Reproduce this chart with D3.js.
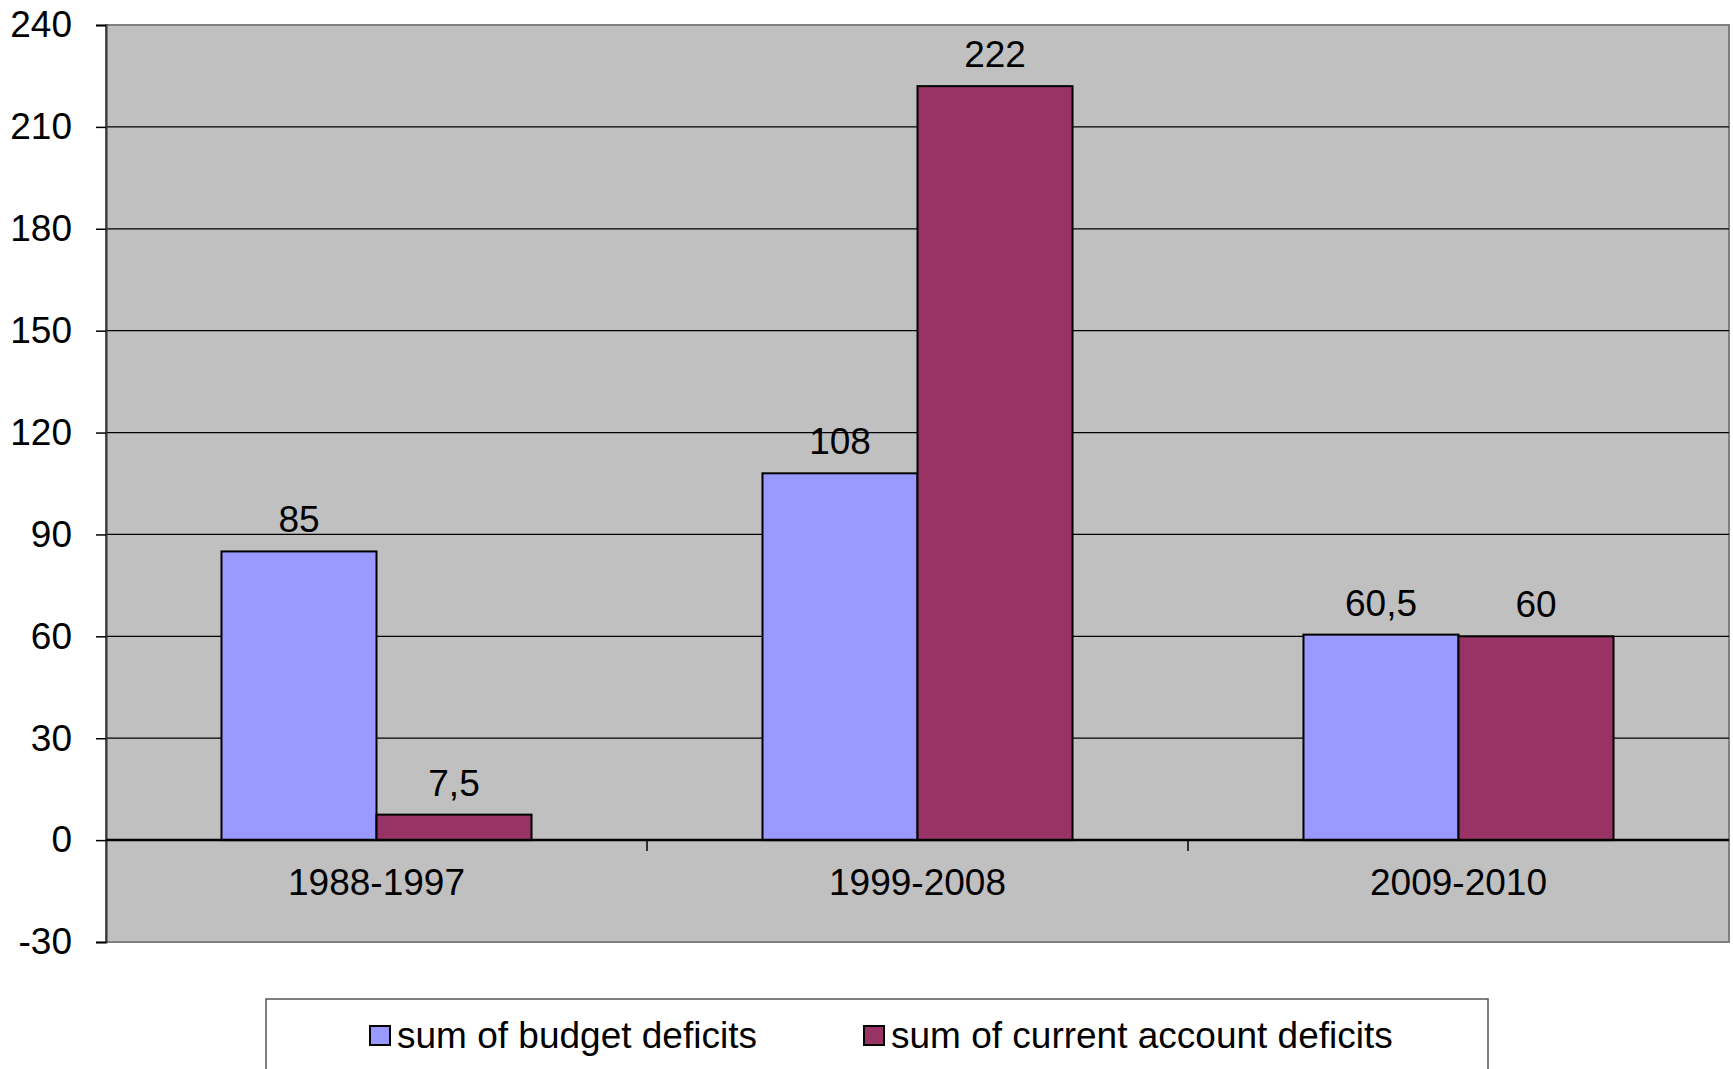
<!DOCTYPE html>
<html>
<head>
<meta charset="utf-8">
<script src="https://cdn.jsdelivr.net/npm/d3@7"></script>
<style>
  body { margin: 0; background: #fff; }
  text { font-family: "Liberation Sans", Arial, sans-serif; fill: #000; }
</style>
</head>
<body>
<div id="chart"></div>
<script>
const categories = ["1988-1997", "1999-2008", "2009-2010"];
const seriesNames = ["sum of budget deficits", "sum of current account deficits"];
const budget = [85, 108, 60.5];
const currentAccount = [7.5, 222, 60];
const yTicks = [-30, 0, 30, 60, 90, 120, 150, 180, 210, 240];

const colors = ["#9999ff", "#993366"];
const WIDTH = 1733, HEIGHT = 1069;
const M = { TOP: 25, LEFT: 106, RIGHT: 4, BOTTOM: 127 };
const FS = "37px";

const svg = d3.select("#chart").append("svg")
  .attr("width", WIDTH).attr("height", HEIGHT);

const innerW = WIDTH - M.LEFT - M.RIGHT;
const innerH = HEIGHT - M.TOP - M.BOTTOM;

const y = d3.scaleLinear().domain([-30, 240]).range([M.TOP + innerH, M.TOP]);
const x0 = d3.scaleBand().domain(categories).range([M.LEFT, M.LEFT + innerW]).padding(0);
const x1 = d3.scaleBand().domain(seriesNames).range([0, x0.bandwidth()]).paddingInner(0).paddingOuter(0.745);

// plot area
svg.append("rect")
  .attr("x", M.LEFT).attr("y", M.TOP)
  .attr("width", innerW).attr("height", innerH)
  .attr("fill", "#c0c0c0").attr("stroke", "#808080").attr("stroke-width", 2);

// gridlines
svg.append("g").selectAll("line")
  .data(yTicks.filter(d => d !== 0 && d !== -30 && d !== 240))
  .join("line")
  .attr("x1", M.LEFT).attr("x2", M.LEFT + innerW)
  .attr("y1", d => y(d)).attr("y2", d => y(d))
  .attr("stroke", "#000").attr("stroke-width", 1.2);

// y axis
const yAxis = svg.append("g")
  .attr("transform", `translate(${M.LEFT},0)`)
  .call(d3.axisLeft(y).tickValues(yTicks).tickSize(10).tickPadding(24).tickFormat(d => String(d)));
yAxis.select(".domain").attr("stroke", "#333").attr("stroke-width", 2);
yAxis.selectAll(".tick line").attr("stroke", "#000").attr("stroke-width", 1.5);
yAxis.selectAll("text").style("font-size", FS).attr("font-family", null);

// bars
const data = categories.map((c, i) => ({ cat: c, values: [budget[i], currentAccount[i]] }));
const groups = svg.append("g").selectAll("g")
  .data(data).join("g")
  .attr("transform", d => `translate(${x0(d.cat)},0)`);

groups.selectAll("rect")
  .data(d => d.values.map((v, j) => ({ name: seriesNames[j], v, j })))
  .join("rect")
  .attr("x", d => x1(d.name))
  .attr("y", d => y(d.v))
  .attr("width", x1.bandwidth())
  .attr("height", d => y(0) - y(d.v))
  .attr("fill", d => colors[d.j])
  .attr("stroke", "#000").attr("stroke-width", 2);

groups.selectAll("text.val")
  .data(d => d.values.map((v, j) => ({ name: seriesNames[j], v, j })))
  .join("text")
  .attr("class", "val")
  .attr("x", d => x1(d.name) + x1.bandwidth() / 2)
  .attr("y", d => y(d.v) - 19)
  .attr("text-anchor", "middle")
  .style("font-size", FS)
  .text(d => String(d.v).replace(".", ","));

// x axis at zero
const xAxis = svg.append("g")
  .attr("transform", `translate(0,${y(0)})`);
xAxis.append("line")
  .attr("x1", M.LEFT).attr("x2", M.LEFT + innerW)
  .attr("stroke", "#000").attr("stroke-width", 2.5);
xAxis.selectAll("line.tk")
  .data(categories.slice(1))
  .join("line").attr("class", "tk")
  .attr("x1", d => x0(d)).attr("x2", d => x0(d))
  .attr("y1", 0).attr("y2", 11)
  .attr("stroke", "#000").attr("stroke-width", 1.5);
xAxis.selectAll("text")
  .data(categories).join("text")
  .attr("x", d => x0(d) + x0.bandwidth() / 2)
  .attr("y", 55)
  .attr("text-anchor", "middle")
  .style("font-size", FS)
  .text(d => d);

// legend
const legend = svg.append("g");
legend.append("rect")
  .attr("x", 266).attr("y", 999)
  .attr("width", 1222).attr("height", 100)
  .attr("fill", "#fff").attr("stroke", "#555").attr("stroke-width", 1.5);
const legendX = [370, 864];
const item = legend.selectAll("g.item")
  .data(seriesNames).join("g").attr("class", "item")
  .attr("transform", (d, i) => `translate(${legendX[i]},1026)`);
item.append("rect")
  .attr("width", 20).attr("height", 19)
  .attr("fill", (d, i) => colors[i])
  .attr("stroke", "#000").attr("stroke-width", 2);
item.append("text")
  .attr("x", 27).attr("y", 22)
  .style("font-size", FS)
  .text(d => d);
</script>
</body>
</html>
